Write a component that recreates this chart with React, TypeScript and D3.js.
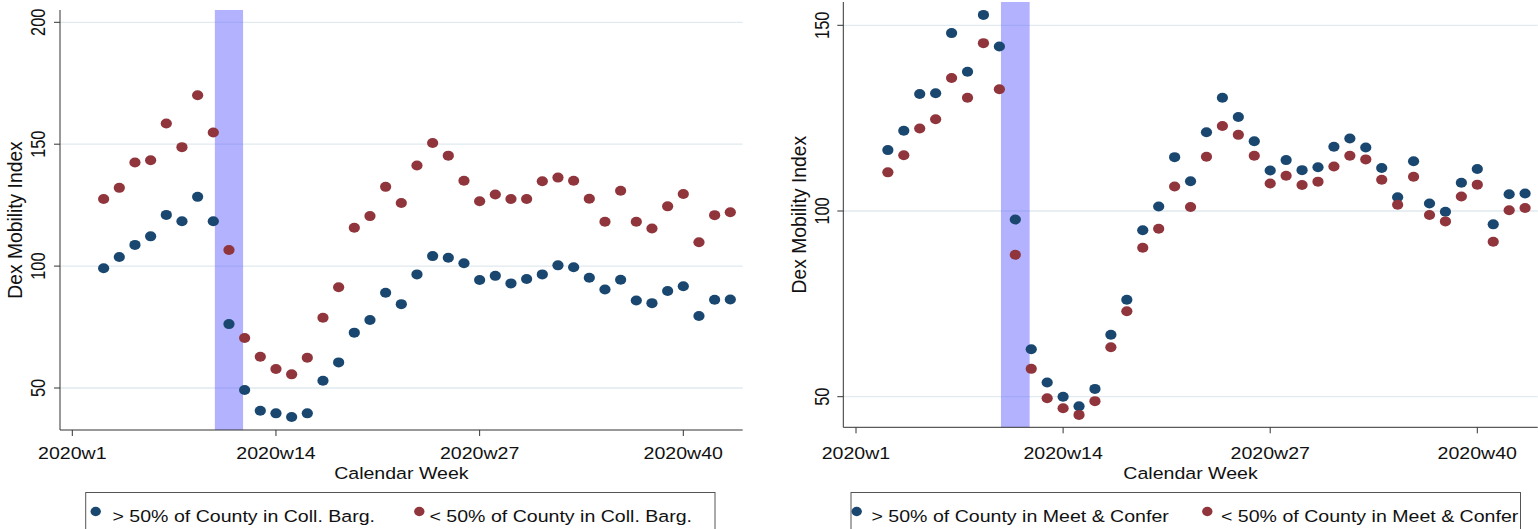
import React from "react";
import * as d3 from "d3";

// ---------- data ----------
const weeks = [3,4,5,6,7,8,9,10,11,12,13,14,15,16,17,18,19,20,21,22,23,24,25,26,27,28,29,30,31,32,33,34,35,36,37,38,39,40,41,42,43];

const collBargAbove = [99.1,103.7,108.7,112.2,121.0,118.4,128.4,118.4,76.2,49.2,40.7,39.6,38.1,39.6,53.0,60.5,72.7,77.9,
  89.1,84.4,96.6,104.1,103.4,101.2,94.3,96.0,92.9,94.7,96.6,100.3,99.5,95.2,90.4,94.4,85.9,84.8,89.8,91.7,79.5,86.2,86.3];
const collBargBelow = [127.5,132.1,142.5,143.4,158.5,148.8,170.1,154.8,106.6,70.5,62.8,57.8,55.6,62.4,78.8,91.3,115.7,120.5,
  132.5,125.9,141.3,150.5,145.3,135.0,126.6,129.4,127.5,127.5,134.8,136.3,135.0,127.6,118.2,130.9,118.2,115.4,124.5,129.6,109.8,120.9,122.1];

const meetConferAbove = [116.4,121.6,131.5,131.7,147.9,137.5,152.8,144.3,97.7,62.8,53.8,50.0,47.4,52.1,66.7,76.1,94.8,101.2,
  114.5,108.0,121.2,130.5,125.3,118.8,110.9,113.7,111.0,111.8,117.3,119.5,117.1,111.6,103.7,113.4,102.0,99.8,107.6,111.3,96.4,104.5,104.7];
const meetConferBelow = [110.4,115.0,122.2,124.7,135.8,130.5,145.2,132.8,88.2,57.5,49.6,46.9,45.1,48.8,63.3,73.0,90.1,95.2,
  106.6,101.1,114.6,122.9,120.5,114.9,107.4,109.5,107.0,107.9,112.0,114.9,113.9,108.4,101.7,109.2,98.9,97.2,103.9,107.1,91.7,100.2,100.8];

const xTickWeeks = [1, 14, 27, 40];
const xTickLabels = ["2020w1", "2020w14", "2020w27", "2020w40"];
const leftYTicks = [50, 100, 150, 200];
const rightYTicks = [50, 100, 150];
const bandWeeks = [10.1, 11.9];

const leftLegend = ["> 50% of County in Coll. Barg.", "< 50% of County in Coll. Barg."];
const rightLegend = ["> 50% of County in Meet & Confer", "< 50% of County in Meet & Confer"];

const BLUE = "#1a476f";
const RED = "#90353b";
const FONT = "'Liberation Sans', Arial, sans-serif";
const FS = 16.3;
const SX = 1.2;

function T({ x, y, text, anchor = "start", rot = false, fs = FS, sx = SX }: any) {
  return (
    <text
      transform={`translate(${x},${y}) scale(${sx},1)${rot ? " rotate(-90)" : ""}`}
      textAnchor={anchor}
      fontFamily={FONT}
      fontSize={fs}
      fill="#111"
    >
      {text}
    </text>
  );
}

function Panel({ cfg }: any) {
  const x = d3.scaleLinear().domain([1, 40]).range(cfg.xRange);
  const y = d3.scaleLinear().domain(cfg.yDomain).range(cfg.yRange);
  const { left, right, top, bottom } = cfg;
  return (
    <g>
      {cfg.yTicks.map((t: number) => (
        <line key={"g" + t} x1={left} x2={right} y1={y(t)} y2={y(t)} stroke="#e1eaee" strokeWidth={1.3} />
      ))}
      <rect
        x={x(bandWeeks[0])}
        y={top}
        width={x(bandWeeks[1]) - x(bandWeeks[0])}
        height={bottom - top}
        fill="#6666ff"
        fillOpacity={0.5}
      />
      {/* axes */}
      <line x1={left} x2={left} y1={top} y2={bottom} stroke="#333" strokeWidth={1} />
      <line x1={left} x2={right} y1={bottom} y2={bottom} stroke="#333" strokeWidth={1} />
      {cfg.yTicks.map((t: number) => (
        <g key={"yt" + t}>
          <line x1={left - 6} x2={left} y1={y(t)} y2={y(t)} stroke="#333" />
          <T x={cfg.yLabelX} y={y(t)} text={String(t)} anchor="middle" rot />
        </g>
      ))}
      {xTickWeeks.map((w, i) => (
        <g key={"xt" + w}>
          <line x1={x(w)} x2={x(w)} y1={bottom} y2={bottom + 6} stroke="#333" />
          <T x={x(w)} y={459} text={xTickLabels[i]} anchor="middle" />
        </g>
      ))}
      <T x={(left + right) / 2} y={479} text="Calendar Week" anchor="middle" />
      <T x={cfg.titleX} y={(top + bottom) / 2} text="Dex Mobility Index" anchor="middle" rot fs={19.3} sx={1} />
      {/* points */}
      {weeks.map((w, i) => (
        <ellipse key={"a" + w} cx={x(w)} cy={y(cfg.above[i])} rx={5.6} ry={5} fill={BLUE} />
      ))}
      {weeks.map((w, i) => (
        <ellipse key={"b" + w} cx={x(w)} cy={y(cfg.below[i])} rx={5.6} ry={5} fill={RED} />
      ))}
      {/* legend */}
      <rect x={cfg.legend.x0} y={492.5} width={cfg.legend.x1 - cfg.legend.x0} height={60} fill="none" stroke="#555" strokeWidth={1} />
      <ellipse cx={cfg.legend.m1} cy={511.5} rx={5.2} ry={4.7} fill={BLUE} />
      <T x={cfg.legend.t1} y={521.5} text={cfg.legend.labels[0]} />
      <ellipse cx={cfg.legend.m2} cy={511.5} rx={5.2} ry={4.7} fill={RED} />
      <T x={cfg.legend.t2} y={521.5} text={cfg.legend.labels[1]} />
    </g>
  );
}

const leftCfg = {
  xRange: [72.3, 683.3],
  yDomain: [50, 200],
  yRange: [388, 22.3],
  left: 60,
  right: 742.7,
  top: 10,
  bottom: 430,
  yTicks: leftYTicks,
  yLabelX: 44.5,
  titleX: 21.5,
  above: collBargAbove,
  below: collBargBelow,
  legend: { x0: 85.7, x1: 715, m1: 95.7, t1: 112.5, m2: 419.3, t2: 429.5, labels: leftLegend },
};

const rightCfg = {
  xRange: [856, 1477.3],
  yDomain: [50, 150],
  yRange: [396.7, 25.3],
  left: 843.3,
  right: 1537.7,
  top: 2,
  bottom: 427.3,
  yTicks: rightYTicks,
  yLabelX: 829,
  titleX: 806,
  above: meetConferAbove,
  below: meetConferBelow,
  legend: { x0: 851, x1: 1520.5, m1: 856.7, t1: 871.5, m2: 1207.3, t2: 1221, labels: rightLegend },
};

export default function App() {
  return (
    <svg
      width={1538}
      height={529}
      style={{ position: "absolute", left: 0, top: 0, background: "#fff" }}
    >
      <rect x={0} y={0} width={1538} height={529} fill="#fff" />
      <Panel cfg={leftCfg} />
      <Panel cfg={rightCfg} />
    </svg>
  );
}
